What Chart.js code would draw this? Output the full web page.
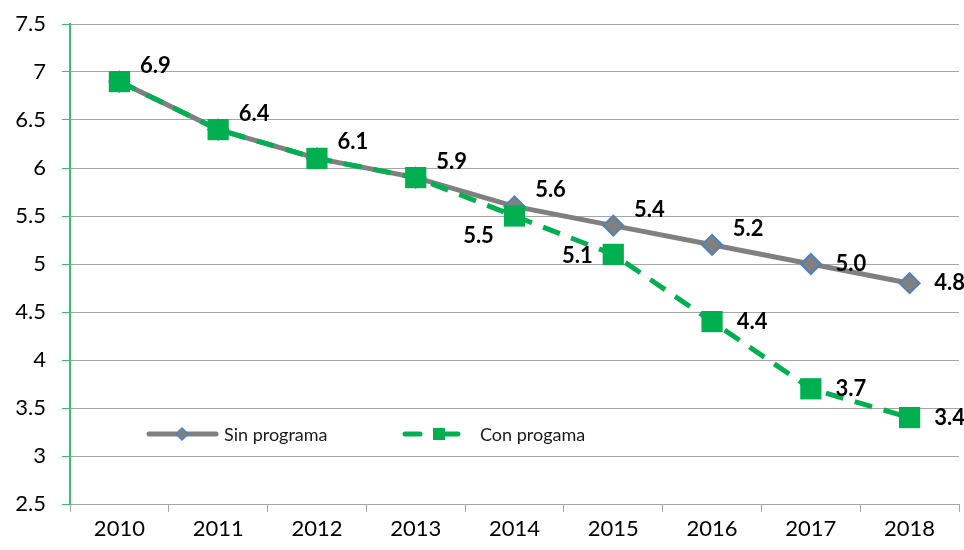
<!DOCTYPE html>
<html>
<head>
<meta charset="utf-8">
<script src="https://cdn.jsdelivr.net/npm/chart.js@4"></script>
<style>
  html,body{margin:0;padding:0;background:#fff;overflow:hidden;}
  #wrap{width:964px;height:550px;position:relative;}
</style>
</head>
<body>
<div id="wrap"><canvas id="grafico"></canvas></div>
<script>
// datos
const anios = ['2010','2011','2012','2013','2014','2015','2016','2017','2018'];
const sinPrograma = [6.9, 6.4, 6.1, 5.9, 5.6, 5.4, 5.2, 5.0, 4.8];
const conPrograma = [6.9, 6.4, 6.1, 5.9, 5.5, 5.1, 4.4, 3.7, 3.4];
const nombres = ['Sin programa', 'Con progama'];

// dónde va cada etiqueta respecto al punto (null = sin etiqueta)
const posSin = ['ne','ne','ne','ne','ne','ne','ne','e','e'];
const posCon = [null,null,null,null,'sw','w','e','e','e'];

const GRIS = '#808080', VERDE = '#00B050', AZUL = '#4F81BD';
const FUENTE = 'Lato, "Open Sans", sans-serif';

const OFF = { ne:[36,-16], e:[40,0], w:[-36,2], sw:[-36,20] };

const etiquetas = {
  id:'etiquetas',
  afterDatasetsDraw(chart){
    const ctx = chart.ctx;
    ctx.save();
    ctx.font = 'bold 22px ' + FUENTE;
    ctx.fillStyle = '#000';
    ctx.textAlign = 'center';
    ctx.textBaseline = 'middle';
    [[1, sinPrograma, posSin], [0, conPrograma, posCon]].forEach(([idx, vals, pos]) => {
      const meta = chart.getDatasetMeta(idx);
      meta.data.forEach((p, i) => {
        if(!pos[i]) return;
        const o = OFF[pos[i]];
        ctx.fillText(vals[i].toFixed(1), p.x + o[0], p.y + o[1]);
      });
    });
    ctx.restore();
  }
};

const leyenda = {
  id:'leyenda',
  afterDraw(chart){
    const ctx = chart.ctx;
    const y = 434;
    ctx.save();
    // Sin programa
    ctx.strokeStyle = GRIS; ctx.lineWidth = 5; ctx.lineCap = 'round';
    ctx.beginPath(); ctx.moveTo(149, y); ctx.lineTo(216, y); ctx.stroke();
    ctx.fillStyle = GRIS; ctx.strokeStyle = AZUL; ctx.lineWidth = 1.5;
    ctx.beginPath(); ctx.moveTo(182, y-6); ctx.lineTo(188, y); ctx.lineTo(182, y+6); ctx.lineTo(176, y); ctx.closePath();
    ctx.fill(); ctx.stroke();
    // Con progama
    ctx.strokeStyle = VERDE; ctx.lineWidth = 5; ctx.lineCap = 'round';
    ctx.beginPath(); ctx.moveTo(405, y); ctx.lineTo(420, y); ctx.stroke();
    ctx.beginPath(); ctx.moveTo(440, y); ctx.lineTo(458, y); ctx.stroke();
    ctx.fillStyle = VERDE;
    ctx.fillRect(433, y-6, 12, 12);
    ctx.fillStyle = '#1a1a1a';
    ctx.font = '18px ' + FUENTE;
    ctx.textBaseline = 'middle';
    ctx.fillText(nombres[0], 224, y+1);
    ctx.fillText(nombres[1], 480, y+1);
    ctx.restore();
  }
};

new Chart(document.getElementById('grafico').getContext('2d'), {
  type:'line',
  data:{
    labels: anios,
    datasets:[
      {label:nombres[1], data:conPrograma, borderColor:VERDE, backgroundColor:VERDE, borderWidth:5,
       borderDash:[18,12], pointStyle:'rect', pointRadius:15, pointHoverRadius:15,
       pointBorderColor:VERDE, pointBackgroundColor:VERDE, pointBorderWidth:0, tension:0, fill:false},
      {label:nombres[0], data:sinPrograma, borderColor:GRIS, backgroundColor:GRIS, borderWidth:5,
       pointStyle:'rectRot', pointRadius:10, pointHoverRadius:10,
       pointBorderColor:AZUL, pointBackgroundColor:GRIS, pointBorderWidth:2, tension:0, fill:false}
    ]
  },
  options:{
    responsive:true, maintainAspectRatio:false, animation:false,
    layout:{autoPadding:false, padding:{top:24, right:5, left:0, bottom:0}},
    plugins:{legend:{display:false}, tooltip:{enabled:false}},
    scales:{
      x:{
        offset:true,
        grid:{offset:true, drawOnChartArea:false, tickLength:8, color:'#A6A6A6'},
        border:{color:'#A6A6A6', width:1},
        ticks:{color:'#000', font:{family:FUENTE, size:22}, padding:4, maxRotation:0},
        afterFit(s){ s.height = 46; s.paddingLeft = 0; s.paddingRight = 0; }
      },
      y:{
        min:2.5, max:7.5,
        grid:{color:'#A6A6A6', tickLength:8, tickColor:'#3DBE6E'},
        border:{color:'#3DBE6E', width:2},
        ticks:{stepSize:0.5, color:'#000', font:{family:FUENTE, size:22}, padding:16,
               callback:v => String(+v.toFixed(1))},
        afterFit(s){ s.width = 70; s.paddingTop = 0; s.paddingBottom = 0; }
      }
    }
  },
  plugins:[etiquetas, leyenda]
});
</script>
</body>
</html>
